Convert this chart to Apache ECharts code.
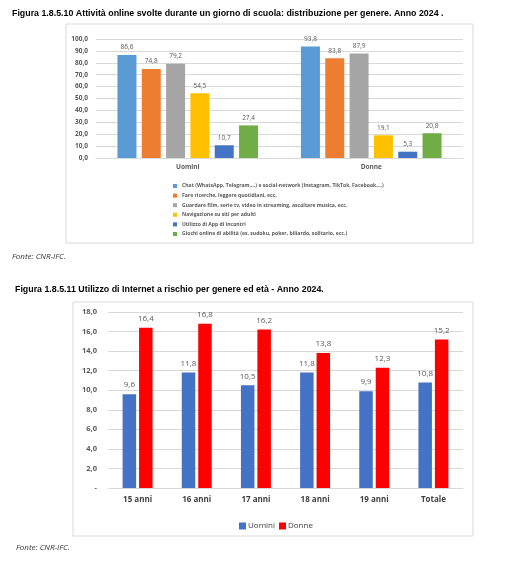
<!DOCTYPE html>
<html>
<head>
<meta charset="utf-8">
<script src="https://cdn.jsdelivr.net/npm/echarts@6/dist/echarts.min.js"></script>
<style>
  html, body { margin: 0; padding: 0; background: #fff; }
  #chart { width: 506px; height: 573px; }
</style>
</head>
<body>
<div id="chart"></div>
<script>
// Figura 1.8.5.10 - attività online per genere
const genderCats = ['Uomini', 'Donne'];
const activityNames = [
  'Chat (WhatsApp, Telegram,...) e social-network (Instagram, TikTok, Facebook,...)',
  'Fare ricerche, leggere quotidiani, ecc.',
  'Guardare film, serie tv, video in streaming, ascoltare musica, ecc.',
  'Navigazione su siti per adulti',
  'Utilizzo di App di incontri',
  'Giochi online di abilità (es. sudoku, poker, biliardo, solitario, ecc.)'
];
const chatVals = [86.6, 93.8];
const ricercheVals = [74.8, 83.8];
const filmVals = [79.2, 87.9];
const adultiVals = [54.5, 19.1];
const appVals = [10.7, 5.3];
const giochiVals = [27.4, 20.8];
const activityColors = ['#5B9BD5', '#ED7D31', '#A5A5A5', '#FFC000', '#4472C4', '#70AD47'];

// Figura 1.8.5.11 - utilizzo a rischio per età
const ageCats = ['15 anni', '16 anni', '17 anni', '18 anni', '19 anni', 'Totale'];
const uominiVals = [9.6, 11.8, 10.5, 11.8, 9.9, 10.8];
const donneVals = [16.4, 16.8, 16.2, 13.8, 12.3, 15.2];

const fmt = v => v.toFixed(1).replace('.', ',');
const font = 'Open Sans';
const grey = '#595959';

const chart = echarts.init(document.getElementById('chart'));

const activitySeries = [chatVals, ricercheVals, filmVals, adultiVals, appVals, giochiVals].map((vals, i) => ({
  name: activityNames[i],
  type: 'bar',
  xAxisIndex: 0,
  yAxisIndex: 0,
  data: vals,
  barWidth: 19,
  barGap: '28%',
  itemStyle: { color: activityColors[i] },
  label: {
    show: true,
    position: 'top',
    distance: 4,
    formatter: p => fmt(p.value),
    fontFamily: font,
    fontSize: 6.5,
    color: grey
  }
}));

const ageSeries = [
  { name: 'Uomini', data: uominiVals, color: '#4472C4' },
  { name: 'Donne', data: donneVals, color: '#FF0000' }
].map(s => ({
  name: s.name,
  type: 'bar',
  xAxisIndex: 1,
  yAxisIndex: 1,
  data: s.data,
  barWidth: 13.5,
  barGap: '22%',
  itemStyle: { color: s.color },
  label: {
    show: true,
    position: 'top',
    distance: 5,
    formatter: p => fmt(p.value),
    fontFamily: font,
    fontSize: 8,
    color: grey
  }
}));

// page texts outside the plots
function titleText(text, x, y) {
  return {
    type: 'text', x: x, y: y, scaleX: 0.93,
    style: { text: text, font: 'bold 9.5px "Liberation Sans"', fill: '#000', textVerticalAlign: 'middle' }
  };
}
function sourceText(x, y) {
  return {
    type: 'text', x: x, y: y,
    style: { text: 'Fonte: CNR-IFC.', font: 'italic 8px "Open Sans"', fill: '#333', textVerticalAlign: 'middle' }
  };
}

chart.setOption({
  animation: false,
  backgroundColor: '#fff',
  graphic: [
    titleText('Figura 1.8.5.10 Attività online svolte durante un giorno di scuola: distribuzione per genere. Anno 2024 .', 12, 13),
    sourceText(12, 257),
    titleText('Figura 1.8.5.11 Utilizzo di Internet a rischio per genere ed età - Anno 2024.', 15, 289),
    sourceText(16, 548),
    { type: 'rect', shape: { x: 66, y: 24, width: 407, height: 219 }, style: { fill: 'none', stroke: '#d9d9d9', lineWidth: 1 } },
    { type: 'rect', shape: { x: 73, y: 302, width: 400, height: 234 }, style: { fill: 'none', stroke: '#d9d9d9', lineWidth: 1 } }
  ],
  legend: [
    {
      data: activityNames,
      orient: 'vertical',
      left: 168, top: 178,
      itemWidth: 4, itemHeight: 4,
      itemGap: 3.6,
      icon: 'rect',
      textStyle: { fontFamily: font, fontSize: 5.1, fontWeight: 'bold', color: grey, lineHeight: 6 }
    },
    {
      data: ['Uomini', 'Donne'],
      left: 234, top: 517,
      itemWidth: 7, itemHeight: 7,
      itemGap: 4,
      itemStyle: { borderWidth: 0 },
      icon: 'rect',
      textStyle: { fontFamily: font, fontSize: 8, fontWeight: 500, color: '#404040', padding: [0, 0, 0, -3] }
    }
  ],
  grid: [
    { left: 96, right: 43, top: 39, height: 119 },
    { left: 108, right: 43, top: 312, height: 176 }
  ],
  xAxis: [
    {
      gridIndex: 0,
      type: 'category',
      data: genderCats,
      axisLine: { lineStyle: { color: '#d9d9d9' } },
      axisTick: { show: false },
      axisLabel: { fontFamily: font, fontSize: 6.5, fontWeight: 'bold', color: grey, margin: 6 }
    },
    {
      gridIndex: 1,
      type: 'category',
      data: ageCats,
      axisLine: { lineStyle: { color: '#d9d9d9' } },
      axisTick: { show: false },
      axisLabel: { fontFamily: font, fontSize: 8, fontWeight: 'bold', color: '#404040', margin: 8 }
    }
  ],
  yAxis: [
    {
      gridIndex: 0,
      type: 'value',
      min: 0, max: 100, interval: 10,
      axisLine: { show: false },
      axisTick: { show: false },
      splitLine: { lineStyle: { color: '#d9d9d9' } },
      axisLabel: { formatter: fmt, fontFamily: font, fontSize: 6.5, fontWeight: 'bold', color: grey, margin: 8 }
    },
    {
      gridIndex: 1,
      type: 'value',
      min: 0, max: 18, interval: 2,
      axisLine: { show: false },
      axisTick: { show: false },
      splitLine: { lineStyle: { color: '#d9d9d9' } },
      axisLabel: {
        formatter: v => (v === 0 ? '-' : fmt(v)),
        fontFamily: font, fontSize: 7.5, fontWeight: 'bold', color: grey, margin: 11
      }
    }
  ],
  series: [...activitySeries, ...ageSeries]
});
</script>
</body>
</html>
